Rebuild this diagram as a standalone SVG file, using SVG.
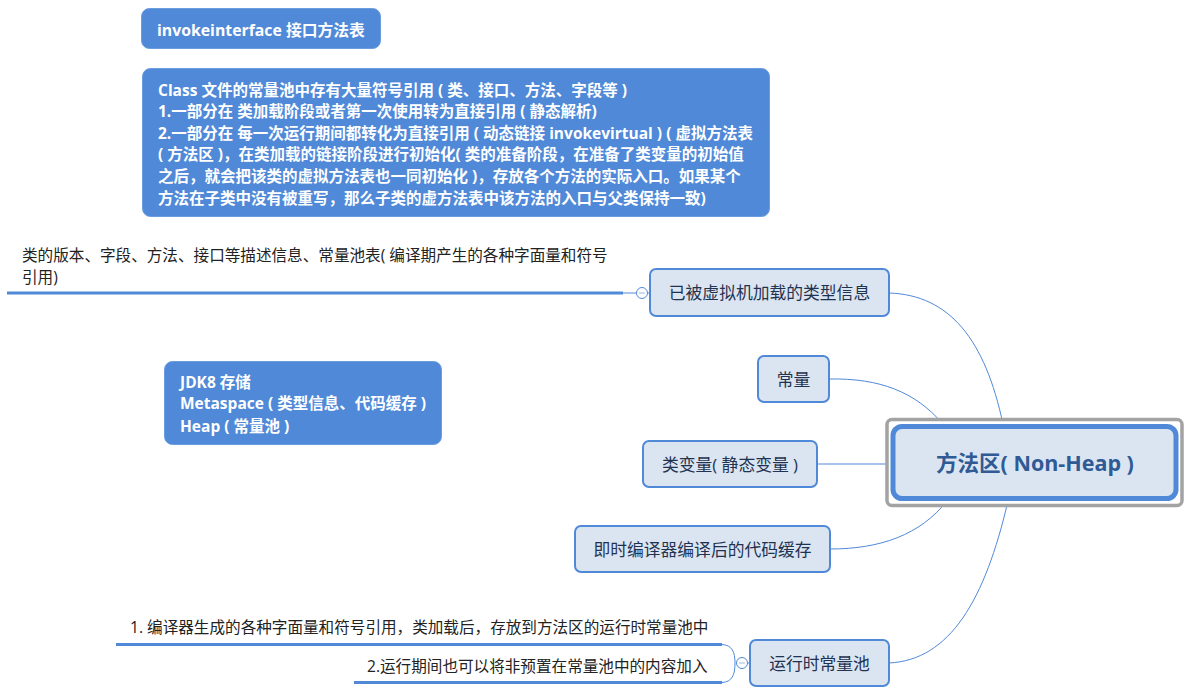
<svg xmlns="http://www.w3.org/2000/svg" width="1191" height="696" viewBox="0 0 1191 696">
<style>
text{font-family:"Open Sans","Noto Sans CJK SC",sans-serif;font-size:15.6px}
.note rect{fill:#5089d8;stroke:#6a9ce0;stroke-width:1}
.note text{fill:#fff;font-weight:700;font-size:15.5px}
.n rect{fill:#dbe5f2;stroke:#5089d8;stroke-width:2}
.n text{fill:#1f3350;text-anchor:middle;font-size:16.8px}
.c path{fill:none;stroke:#5089d8;stroke-width:1}
.c .thick{stroke-width:3}
.c circle{fill:#fff;stroke:#5089d8;stroke-width:1}
.c .minus{stroke:#9db8dc}
.l text{fill:#222}
</style>
<rect width="1191" height="696" fill="#fff"/>
<g id="connectors" class="c">
<path d="M889 293C950 295 985 340 1003 424"/>
<path d="M829 379C880 378 915 392 942 423"/>
<path d="M817 464L892 464"/>
<path d="M830 549C880 549 920 535 947 501"/>
<path d="M889 663C950 660 985 600 1008 501"/>
<path class="thick" d="M7 293L623 293"/>
<path d="M623 293L636 293"/>
<circle cx="642" cy="293" r="5.500"/>
<path class="minus" d="M639 293L645 293"/>
<path d="M648 293L650 293"/>
<path class="thick" d="M116 644.500L722 644.500"/>
<path class="thick" d="M354 682.500L722 682.500"/>
<path d="M722 644.500C732 645 735 652 735 663C735 675 732 682 722 682.500"/>
<circle cx="742" cy="663" r="5.500"/>
<path class="minus" d="M739 663L745 663"/>
<path d="M748 663L750 663"/>
</g>
<g id="note-invokeinterface" class="note">
<rect x="141.500" y="8.500" width="239" height="40" rx="8"/>
<text x="157" y="36" style="font-size:15.8px">invokeinterface 接口方法表</text>
</g>
<g id="note-class" class="note">
<rect x="142.500" y="68.500" width="627" height="148" rx="8"/>
<text x="158" y="96">Class 文件的常量池中存有大量符号引用 ( 类、接口、方法、字段等 )</text>
<text x="158" y="117">1.一部分在 类加载阶段或者第一次使用转为直接引用 ( 静态解析)</text>
<text x="158" y="139">2.一部分在 每一次运行期间都转化为直接引用 ( 动态链接 invokevirtual ) ( 虚拟方法表</text>
<text x="158" y="160">( 方法区 )，在类加载的链接阶段进行初始化( 类的准备阶段，在准备了类变量的初始值</text>
<text x="158" y="182">之后，就会把该类的虚拟方法表也一同初始化 )，存放各个方法的实际入口。如果某个</text>
<text x="158" y="204">方法在子类中没有被重写，那么子类的虚方法表中该方法的入口与父类保持一致)</text>
</g>
<g id="note-jdk8" class="note">
<rect x="164.500" y="361.500" width="277" height="83" rx="8"/>
<text x="180" y="388">JDK8 存储</text>
<text x="180" y="409">Metaspace ( 类型信息、代码缓存 )</text>
<text x="180" y="432">Heap ( 常量池 )</text>
</g>
<g id="label-type-info" class="l">
<text x="22" y="261">类的版本、字段、方法、接口等描述信息、常量池表( 编译期产生的各种字面量和符号</text>
<text x="22" y="283">引用)</text>
</g>
<g id="label-runtime-1" class="l"><text x="130" y="633">1. 编译器生成的各种字面量和符号引用，类加载后，存放到方法区的运行时常量池中</text></g>
<g id="label-runtime-2" class="l"><text x="367" y="672">2.运行期间也可以将非预置在常量池中的内容加入</text></g>
<g id="node-type-info" class="n">
<rect x="650" y="269" width="239" height="47" rx="6"/>
<text x="769.500" y="299">已被虚拟机加载的类型信息</text>
</g>
<g id="node-constant" class="n">
<rect x="758" y="356" width="71" height="46" rx="6"/>
<text x="793.500" y="386">常量</text>
</g>
<g id="node-class-var" class="n">
<rect x="643" y="441" width="174" height="46" rx="6"/>
<text x="730" y="471">类变量( 静态变量 )</text>
</g>
<g id="node-jit" class="n">
<rect x="575" y="526" width="255" height="46" rx="6"/>
<text x="702.500" y="556">即时编译器编译后的代码缓存</text>
</g>
<g id="node-runtime-pool" class="n">
<rect x="750" y="640" width="139" height="46" rx="6"/>
<text x="819.500" y="670">运行时常量池</text>
</g>
<g id="node-root">
<rect x="887" y="419.500" width="295" height="86" rx="5" fill="#fff" stroke="#a3a3a3" stroke-width="3.500"/>
<rect x="893" y="426.500" width="283" height="72" rx="9" fill="#dbe5f2" stroke="#5089d8" stroke-width="5"/>
<text x="1035" y="471" text-anchor="middle" style="font-size:21.500px;font-weight:700;fill:#2f5a94">方法区( Non-Heap )</text>
</g>
</svg>
